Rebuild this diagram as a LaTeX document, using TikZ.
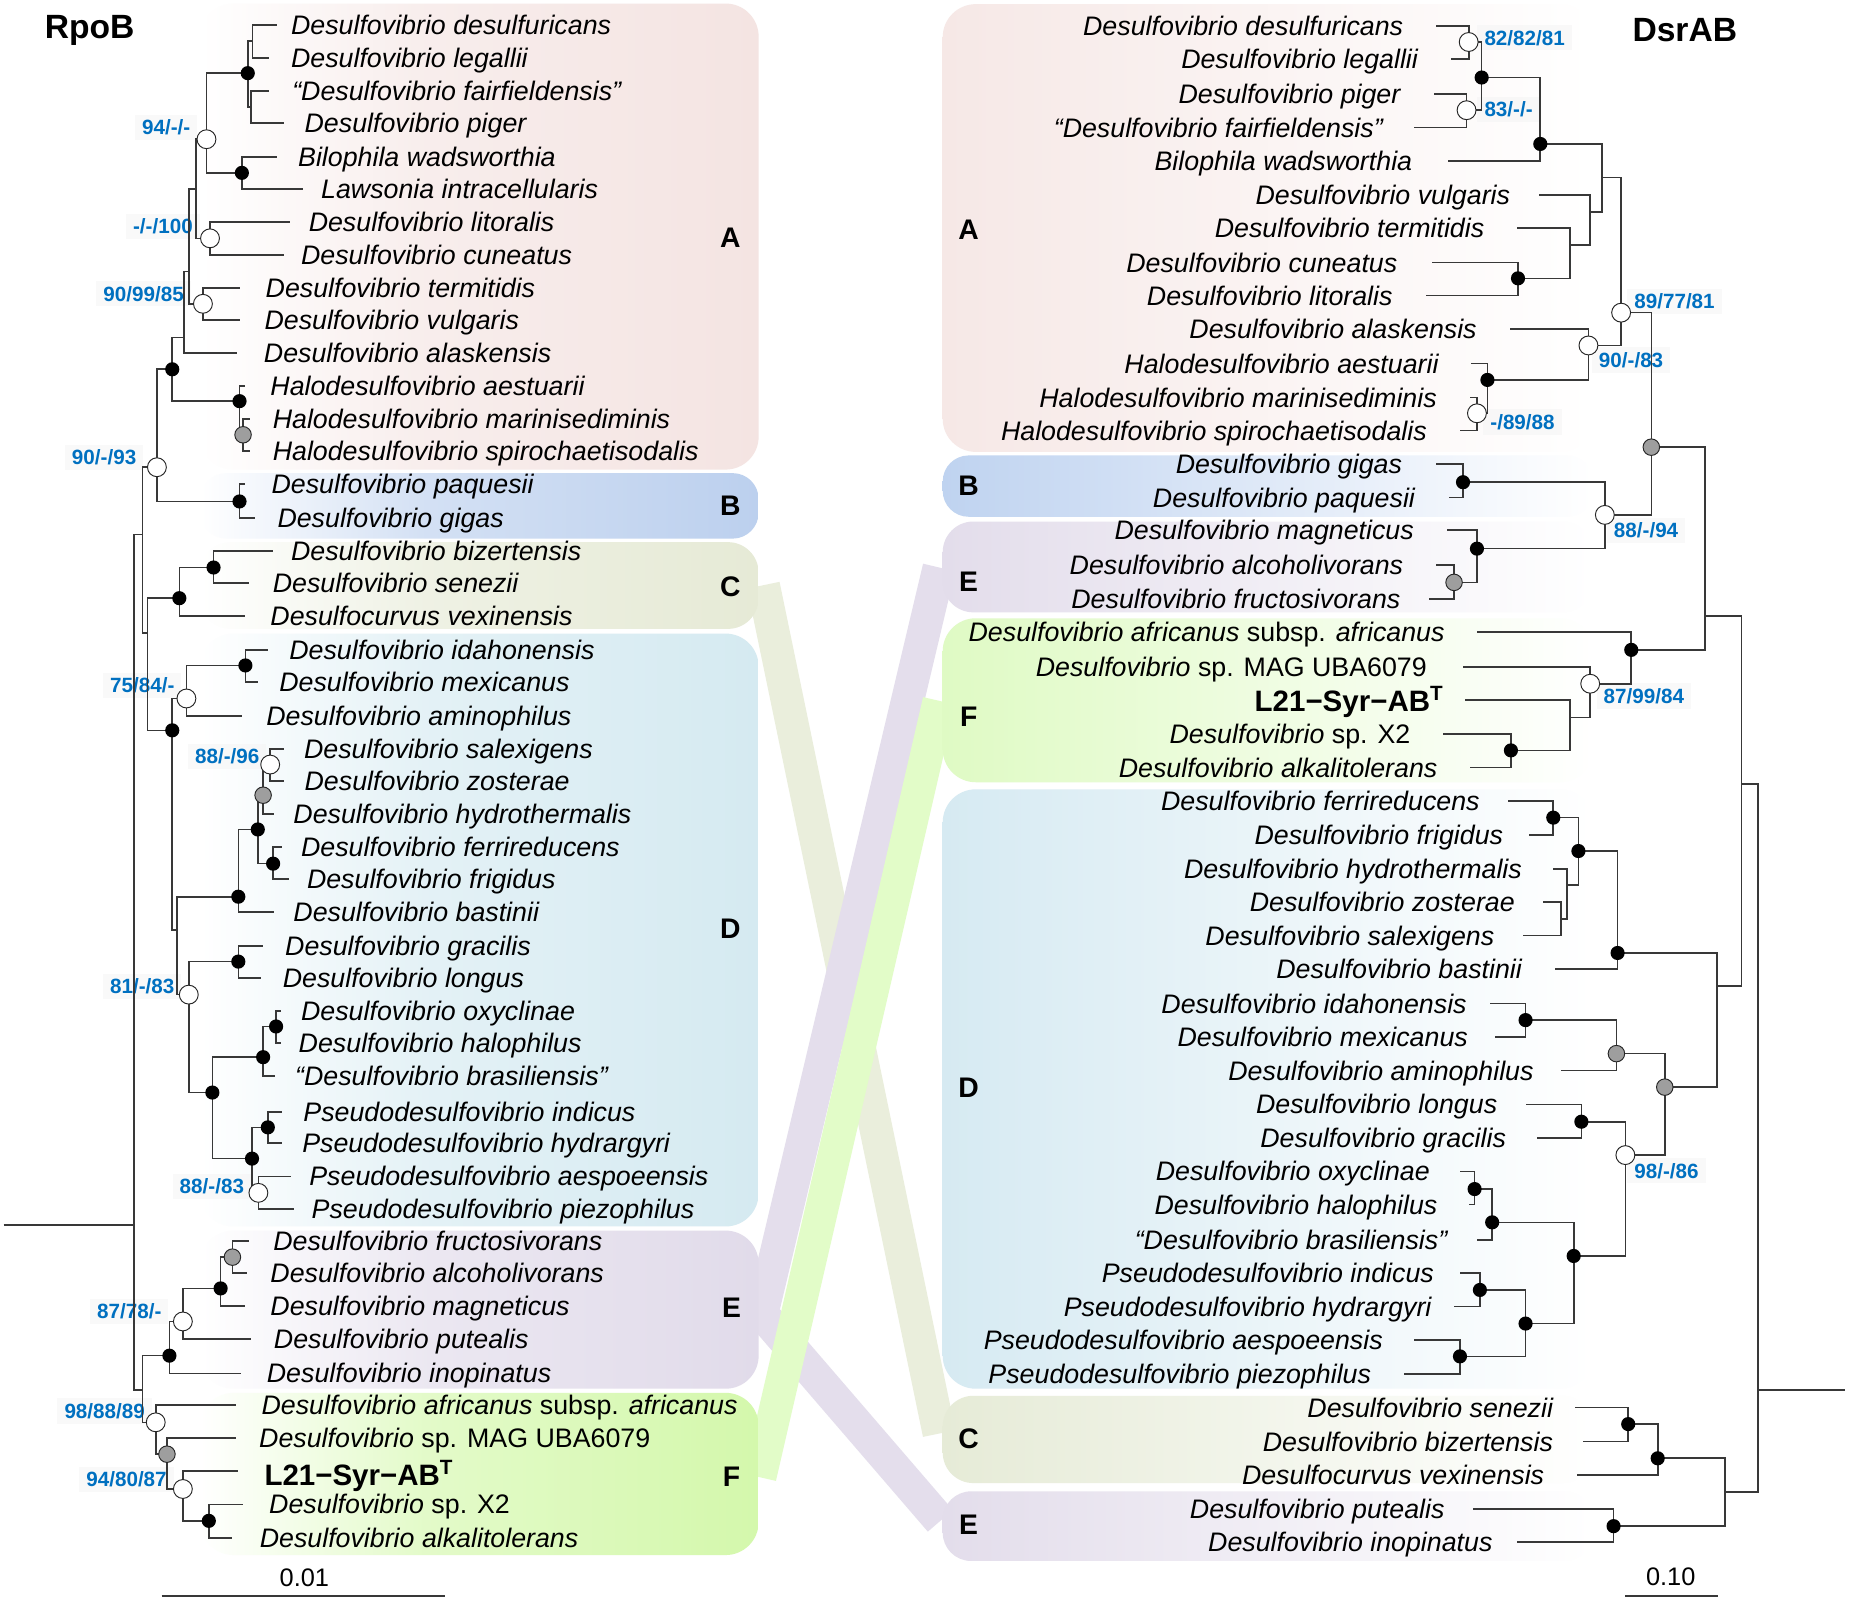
\documentclass[tikz,border=0pt]{standalone}
\usepackage{fontspec}
\setmainfont{Liberation Sans}
\definecolor{cA}{HTML}{F4E4E2}
\definecolor{cB}{HTML}{BCD0EE}
\definecolor{cC}{HTML}{E6EAD6}
\definecolor{cD}{HTML}{D5EAF1}
\definecolor{cE}{HTML}{E1DBEA}
\definecolor{cF}{HTML}{D4F8AC}
\definecolor{rA}{HTML}{F6E8E6}
\definecolor{rB}{HTML}{BFD3F0}
\definecolor{rE}{HTML}{E3DDEB}
\definecolor{rF}{HTML}{DFFAC4}
\definecolor{rD}{HTML}{D6EAF2}
\definecolor{rC}{HTML}{E6EBD7}
\definecolor{bandC}{HTML}{EAEEDC}
\definecolor{bandE}{HTML}{E4DEEC}
\definecolor{bandF}{HTML}{E2FCC8}
\definecolor{supc}{HTML}{0070C0}
\pgfdeclarehorizontalshading{shA}{100bp}{color(0bp)=(white); color(25bp)=(white); color(45bp)=(cA!65); color(75bp)=(cA); color(100bp)=(cA)}
\pgfdeclarehorizontalshading{shB}{100bp}{color(0bp)=(white); color(25bp)=(white); color(45bp)=(cB!65); color(75bp)=(cB); color(100bp)=(cB)}
\pgfdeclarehorizontalshading{shC}{100bp}{color(0bp)=(white); color(25bp)=(white); color(45bp)=(cC!65); color(75bp)=(cC); color(100bp)=(cC)}
\pgfdeclarehorizontalshading{shD}{100bp}{color(0bp)=(white); color(25bp)=(white); color(45bp)=(cD!65); color(75bp)=(cD); color(100bp)=(cD)}
\pgfdeclarehorizontalshading{shE}{100bp}{color(0bp)=(white); color(25bp)=(white); color(45bp)=(cE!65); color(75bp)=(cE); color(100bp)=(cE)}
\pgfdeclarehorizontalshading{shF}{100bp}{color(0bp)=(white); color(25bp)=(white); color(45bp)=(cF!65); color(75bp)=(cF); color(100bp)=(cF)}
\newcommand\spfont{\fontsize{22.7}{26}\selectfont\itshape}
\tikzset{
  br/.style={line width=1.4pt, draw=black!78},
  band/.style={line width=28pt},
  spl/.style={font=\spfont, inner sep=0pt, text height=16.3pt, text depth=0pt, anchor=west},
  spr/.style={font=\spfont, inner sep=0pt, text height=16.3pt, text depth=0pt, anchor=east},
  ltwo/.style={font=\fontsize{25}{28}\selectfont\bfseries, inner sep=0pt, text height=17.9pt, text depth=0pt},
  suplab/.style={font=\fontsize{17.5}{20}\selectfont\bfseries, text=supc, fill=white!96!black, fill opacity=0.6, text opacity=1, inner xsep=6pt, inner ysep=4.5pt, text height=12.5pt, text depth=0pt},
  clade/.style={font=\fontsize{24}{28}\selectfont\bfseries, inner sep=0pt, text height=17.2pt, text depth=0pt},
  ttl/.style={font=\fontsize{28.5}{32}\selectfont\bfseries, inner sep=0pt, text height=20.4pt, text depth=0pt},
  sclab/.style={font=\fontsize{21.5}{24}\selectfont, inner sep=0pt, text height=15.4pt, text depth=0pt},
  mo/.style={circle, draw=black!85, fill=white, line width=0.8pt, minimum size=16pt, inner sep=0pt},
  mg/.style={circle, draw=black!85, fill=black!38, line width=0.8pt, minimum size=14pt, inner sep=0pt},
  mb/.style={circle, fill=black, minimum size=12pt, inner sep=0pt},
}
\newcommand\lleaf[5]{\coordinate (la#1) at (#2,#3); \node[spl] (sl#1) at (#4,#3) {#5};}
\newcommand\rleaf[5]{\coordinate (ra#1) at (#2,#3); \node[spr] (sr#1) at (#4-1.5,#3) {#5};}
\newcommand\lsup[4]{\node[suplab, anchor=east] (#1) at (#2+6,#3) {#4};}
\newcommand\rsup[4]{\node[suplab, anchor=west] (#1) at (#2-6,#3) {#4};}
\begin{document}
\begin{tikzpicture}[x=1pt,y=-1pt]
\useasboundingbox (0,0) rectangle (1568,1358);
\fill[white] (0,0) rectangle (1568,1358);

% ---- crossing bands
\draw[band,draw=bandC] (647,496) -- (796,1215);
\draw[band,draw=bandE] (648,1116) -- (797,1289);
\draw[band,draw=bandE] (643,1125) -- (796,481);
\draw[band,draw=bandF] (644,1252) -- (796,594);

% ---- left clade boxes
\shade[shading=shA,rounded corners=28pt] (170,3) rectangle (643,398);
\shade[shading=shB,rounded corners=22pt] (170,401) rectangle (643,456.5);
\shade[shading=shC,rounded corners=26pt] (170,459.5) rectangle (643,533);
\shade[shading=shD,rounded corners=28pt] (170,537) rectangle (643,1039.5);
\shade[shading=shE,rounded corners=28pt] (170,1043) rectangle (643,1177);
\shade[shading=shF,rounded corners=28pt] (170,1180.5) rectangle (643,1318);
% ---- right clade boxes
\shade[left color=rA,right color=white,rounded corners=28pt] (799,3.5) rectangle (1350,383);
\shade[left color=rB,right color=white,rounded corners=22pt] (799,386) rectangle (1350,438);
\shade[left color=rE,right color=white,rounded corners=26pt] (799,442) rectangle (1350,519);
\shade[left color=rF,right color=white,rounded corners=28pt] (799,524) rectangle (1350,663);
\shade[left color=rD,right color=white,rounded corners=28pt] (799,669) rectangle (1350,1177);
\shade[left color=rC,right color=white,rounded corners=26pt] (799,1183) rectangle (1350,1257);
\shade[left color=rE,right color=white,rounded corners=24pt] (799,1264) rectangle (1350,1323);

% ---- clade letters
\node[clade] (kA) at (619,201) {A};
\node[clade] (kB) at (619,428) {B};
\node[clade] (kC) at (619,497) {C};
\node[clade] (kD) at (619,787) {D};
\node[clade] (kE) at (620,1108) {E};
\node[clade] (kF) at (620,1251) {F};
\node[clade] (qA) at (821,194) {A};
\node[clade] (qB) at (821,411) {B};
\node[clade] (qE) at (821,493) {E};
\node[clade] (qF) at (821,607) {F};
\node[clade] (qD) at (821,922) {D};
\node[clade] (qC) at (821,1219) {C};
\node[clade] (qE2) at (821,1292) {E};

% ---- titles
\node[ttl] (tR) at (76,22.6) {RpoB};
\node[ttl] (tD) at (1428,24.8) {DsrAB};

% ---- support values (drawn below the branches)
\lsup{s1}{161.5}{108}{94/-/-}
\lsup{s2}{163.6}{192}{-/-/100}
\lsup{s3}{156}{249}{90/99/85}
\lsup{s4}{115.7}{387.6}{90/-/93}
\lsup{s5}{148}{581}{75/84/-}
\lsup{s6}{220}{641}{88/-/96}
\lsup{s7}{148}{836}{81/-/83}
\lsup{s8}{207}{1005.4}{88/-/83}
\lsup{s9}{137}{1111.5}{87/78/-}
\lsup{s10}{123}{1196}{98/88/89}
\lsup{s11}{141.5}{1254}{94/80/87}
\rsup{s12}{1258}{32}{82/82/81}
\rsup{s13}{1258}{92.8}{83/-/-}
\rsup{s14}{1385}{255.4}{89/77/81}
\rsup{s15}{1355}{305}{90/-/83}
\rsup{s16}{1263}{357.6}{-/89/88}
\rsup{s17}{1367.7}{449.5}{88/-/94}
\rsup{s18}{1359}{590}{87/99/84}
\rsup{s19}{1385}{992.3}{98/-/86}

% ---- left leaves: tip x, y, text x
\lleaf{1}{235}{21}{246.5}{Desulfovibrio desulfuricans}
\lleaf{2}{228}{49}{246.5}{Desulfovibrio legallii}
\lleaf{3}{228}{77}{247.5}{“Desulfovibrio fairfieldensis”}
\lleaf{4}{241}{104}{258}{Desulfovibrio piger}
\lleaf{5}{235}{133}{252.5}{Bilophila wadsworthia}
\lleaf{6}{257}{160}{272}{Lawsonia intracellularis}
\lleaf{7}{245.6}{188}{261.5}{Desulfovibrio litoralis}
\lleaf{8}{240.6}{216}{255}{Desulfovibrio cuneatus}
\lleaf{9}{203}{244}{225}{Desulfovibrio termitidis}
\lleaf{10}{203}{271}{224}{Desulfovibrio vulgaris}
\lleaf{11}{201}{299}{223.5}{Desulfovibrio alaskensis}
\lleaf{12}{208}{327}{229}{Halodesulfovibrio aestuarii}
\lleaf{13}{212}{355}{231}{Halodesulfovibrio marinisediminis}
\lleaf{14}{212}{382}{231}{Halodesulfovibrio spirochaetisodalis}
\lleaf{15}{208}{410}{230}{Desulfovibrio paquesii}
\lleaf{16}{216}{439}{235}{Desulfovibrio gigas}
\lleaf{17}{231}{467}{246.5}{Desulfovibrio bizertensis}
\lleaf{18}{211}{494}{231}{Desulfovibrio senezii}
\lleaf{19}{208}{522}{229}{Desulfocurvus vexinensis}
\lleaf{20}{227}{551}{245}{Desulfovibrio idahonensis}
\lleaf{21}{219}{578}{236.5}{Desulfovibrio mexicanus}
\lleaf{22}{205}{607}{225.5}{Desulfovibrio aminophilus}
\lleaf{23}{241}{635}{257.5}{Desulfovibrio salexigens}
\lleaf{24}{241}{662}{258}{Desulfovibrio zosterae}
\lleaf{25}{232}{690}{248.5}{Desulfovibrio hydrothermalis}
\lleaf{26}{239}{718}{255}{Desulfovibrio ferrireducens}
\lleaf{27}{245}{745}{260}{Desulfovibrio frigidus}
\lleaf{28}{232}{773}{248.5}{Desulfovibrio bastinii}
\lleaf{29}{223}{802}{241.5}{Desulfovibrio gracilis}
\lleaf{30}{221}{829}{239.5}{Desulfovibrio longus}
\lleaf{31}{238}{857}{255}{Desulfovibrio oxyclinae}
\lleaf{32}{238}{884}{253}{Desulfovibrio halophilus}
\lleaf{33}{233}{912}{250}{“Desulfovibrio brasiliensis”}
\lleaf{34}{239}{942.5}{257}{Pseudodesulfovibrio indicus}
\lleaf{35}{239}{969}{256}{Pseudodesulfovibrio hydrargyri}
\lleaf{36}{247}{997}{262}{Pseudodesulfovibrio aespoeensis}
\lleaf{37}{249}{1024.5}{264}{Pseudodesulfovibrio piezophilus}
\lleaf{38}{211}{1052}{231.5}{Desulfovibrio fructosivorans}
\lleaf{39}{209}{1079}{229}{Desulfovibrio alcoholivorans}
\lleaf{40}{208}{1107}{229}{Desulfovibrio magneticus}
\lleaf{41}{213}{1135}{232}{Desulfovibrio putealis}
\lleaf{42}{204}{1164}{226}{Desulfovibrio inopinatus}
\lleaf{43}{200}{1190.6}{221.5}{Desulfovibrio africanus {\upshape subsp.} africanus}
\lleaf{44}{200}{1219}{219.5}{Desulfovibrio {\upshape sp. MAG UBA6079}}
\coordinate (la45) at (202,1247);
\node[ltwo, anchor=west] (sl45) at (224,1250) {L21−Syr−AB\textsuperscript{T}};
\lleaf{46}{206}{1275}{228}{Desulfovibrio {\upshape sp. X2}}
\lleaf{47}{197}{1303.5}{220}{Desulfovibrio alkalitolerans}

% ---- left internal nodes
\coordinate (L1) at (214,35);
\coordinate (L2) at (213,90.5);
\coordinate (L3) at (210,62);
\coordinate (L4) at (205,146.5);
\coordinate (L5) at (175,118);
\coordinate (L6) at (178,202);
\coordinate (L7) at (166,160);
\coordinate (L8) at (172,257.5);
\coordinate (L9) at (160,230);
\coordinate (L10) at (156,286);
\coordinate (L11) at (206,368.5);
\coordinate (L12) at (203,340);
\coordinate (L13) at (146,313);
\coordinate (L14) at (203,425);
\coordinate (L15) at (133,396);
\coordinate (L16) at (181,481);
\coordinate (L17) at (152,507);
\coordinate (L18) at (208,564);
\coordinate (L19) at (158,592);
\coordinate (L20) at (229,648);
\coordinate (L21) at (223,674);
\coordinate (L22) at (231.5,732);
\coordinate (L23) at (218.5,703);
\coordinate (L24) at (202,760);
\coordinate (L25) at (202,815);
\coordinate (L26) at (234,870);
\coordinate (L27) at (223,896);
\coordinate (L28) at (227,955.5);
\coordinate (L29) at (219,1011);
\coordinate (L30) at (213.6,982);
\coordinate (L31) at (180,926);
\coordinate (L32) at (160,843);
\coordinate (L33) at (150,788);
\coordinate (L34) at (146,619);
\coordinate (L35) at (125,536.5);
\coordinate (L36) at (120.7,453);
\coordinate (L37) at (197,1065.5);
\coordinate (L38) at (187,1092);
\coordinate (L39) at (155,1120);
\coordinate (L40) at (143.6,1149);
\coordinate (L41) at (177,1289);
\coordinate (L42) at (155,1262);
\coordinate (L43) at (141.5,1232.5);
\coordinate (L44) at (132,1205.5);
\coordinate (L45) at (120.7,1178);
\coordinate (LR) at (113.5,1038.5);
\coordinate (Lroot) at (3,1038.5);

\foreach \p/\c in {L1/la1,L1/la2,L2/la3,L2/la4,L3/L1,L3/L2,L4/la5,L4/la6,L5/L3,L5/L4,
  L6/la7,L6/la8,L7/L5,L7/L6,L8/la9,L8/la10,L9/L7,L9/L8,L10/L9,L10/la11,L11/la13,L11/la14,
  L12/la12,L12/L11,L13/L10,L13/L12,L14/la15,L14/la16,L15/L13,L15/L14,L16/la17,L16/la18,
  L17/L16,L17/la19,L18/la20,L18/la21,L19/L18,L19/la22,L20/la23,L20/la24,L21/L20,L21/la25,
  L22/la26,L22/la27,L23/L21,L23/L22,L24/L23,L24/la28,L25/la29,L25/la30,L26/la31,L26/la32,
  L27/L26,L27/la33,L28/la34,L28/la35,L29/la36,L29/la37,L30/L28,L30/L29,L31/L27,L31/L30,
  L32/L25,L32/L31,L33/L24,L33/L32,L34/L19,L34/L33,L35/L17,L35/L34,L36/L15,L36/L35,
  L37/la38,L37/la39,L38/L37,L38/la40,L39/L38,L39/la41,L40/L39,L40/la42,L41/la46,L41/la47,
  L42/la45,L42/L41,L43/la44,L43/L42,L44/la43,L44/L43,L45/L40,L45/L44,LR/L36,LR/L45}
  {\draw[br] (\p) |- (\c);}
\draw[br] (Lroot) -- (LR);

% ---- right leaves: tip x, y, text right end
\rleaf{1}{1217}{21.9}{1191}{Desulfovibrio desulfuricans}
\rleaf{2}{1230}{50.2}{1203.5}{Desulfovibrio legallii}
\rleaf{3}{1215}{79.4}{1188.6}{Desulfovibrio piger}
\rleaf{4}{1198.6}{108}{1173.7}{“Desulfovibrio fairfieldensis”}
\rleaf{5}{1227}{136.6}{1198.6}{Bilophila wadsworthia}
\rleaf{6}{1304.5}{165}{1281.6}{Desulfovibrio vulgaris}
\rleaf{7}{1285.6}{193}{1259.7}{Desulfovibrio termitidis}
\rleaf{8}{1213.5}{222.4}{1186}{Desulfovibrio cuneatus}
\rleaf{9}{1208.5}{250.5}{1182}{Desulfovibrio litoralis}
\rleaf{10}{1279.6}{278.8}{1253.3}{Desulfovibrio alaskensis}
\rleaf{11}{1246.8}{308}{1221}{Halodesulfovibrio aestuarii}
\rleaf{12}{1245.8}{337}{1219.5}{Halodesulfovibrio marinisediminis}
\rleaf{13}{1237.4}{365}{1211}{Halodesulfovibrio spirochaetisodalis}
\rleaf{14}{1217}{393.5}{1190}{Desulfovibrio gigas}
\rleaf{15}{1228.4}{421.8}{1201}{Desulfovibrio paquesii}
\rleaf{16}{1226}{449.2}{1200}{Desulfovibrio magneticus}
\rleaf{17}{1217}{479}{1191}{Desulfovibrio alcoholivorans}
\rleaf{18}{1211}{507.6}{1188.6}{Desulfovibrio fructosivorans}
\rleaf{19}{1251.8}{535.9}{1226}{Desulfovibrio africanus {\upshape subsp.} africanus}
\rleaf{20}{1239.8}{565.1}{1211}{Desulfovibrio {\upshape sp. MAG UBA6079}}
\coordinate (ra21) at (1241.8,593.1);
\node[ltwo, anchor=east] (sr21) at (1223.5,594) {L21−Syr−AB\textsuperscript{T}};
\rleaf{22}{1223.4}{622}{1197}{Desulfovibrio {\upshape sp. X2}}
\rleaf{23}{1245.8}{650.6}{1220}{Desulfovibrio alkalitolerans}
\rleaf{24}{1278}{678.9}{1255.8}{Desulfovibrio ferrireducens}
\rleaf{25}{1295.6}{707.5}{1275.7}{Desulfovibrio frigidus}
\rleaf{26}{1316.5}{736.7}{1291.6}{Desulfovibrio hydrothermalis}
\rleaf{27}{1308}{764.5}{1285.6}{Desulfovibrio zosterae}
\rleaf{28}{1290.6}{793}{1268.2}{Desulfovibrio salexigens}
\rleaf{29}{1318}{821.4}{1291.6}{Desulfovibrio bastinii}
\rleaf{30}{1263.2}{850.6}{1244.8}{Desulfovibrio idahonensis}
\rleaf{31}{1266.7}{878.9}{1245.8}{Desulfovibrio mexicanus}
\rleaf{32}{1323}{907.3}{1301.5}{Desulfovibrio aminophilus}
\rleaf{33}{1293}{936}{1270.7}{Desulfovibrio longus}
\rleaf{34}{1303}{964.4}{1278.1}{Desulfovibrio gracilis}
\rleaf{35}{1237.4}{992.8}{1213.5}{Desulfovibrio oxyclinae}
\rleaf{36}{1245}{1021}{1220}{Desulfovibrio halophilus}
\rleaf{37}{1251.8}{1050.9}{1228.4}{“Desulfovibrio brasiliensis”}
\rleaf{38}{1237.4}{1078.7}{1217}{Pseudodesulfovibrio indicus}
\rleaf{39}{1232}{1107.4}{1215}{Pseudodesulfovibrio hydrargyri}
\rleaf{40}{1198.6}{1135.8}{1173.7}{Pseudodesulfovibrio aespoeensis}
\rleaf{41}{1190.1}{1164.5}{1163.8}{Pseudodesulfovibrio piezophilus}
\rleaf{42}{1335.3}{1193}{1318}{Desulfovibrio senezii}
\rleaf{43}{1341.3}{1221.7}{1318}{Desulfovibrio bizertensis}
\rleaf{44}{1336.3}{1250.1}{1310.5}{Desulfocurvus vexinensis}
\rleaf{45}{1248.3}{1278.8}{1226}{Desulfovibrio putealis}
\rleaf{46}{1285.6}{1307.2}{1266.7}{Desulfovibrio inopinatus}

% ---- right internal nodes
\coordinate (N1) at (1244.8,35.6);
\coordinate (N2) at (1243,93.4);
\coordinate (N3) at (1255.8,65.7);
\coordinate (N4) at (1305.5,122);
\coordinate (N5) at (1286.6,235.9);
\coordinate (N6) at (1330.4,207.8);
\coordinate (N7) at (1347.8,179.5);
\coordinate (N8) at (1357.7,150.3);
\coordinate (N9) at (1251.8,350.3);
\coordinate (N10) at (1260.7,322);
\coordinate (N11) at (1346.3,292.8);
\coordinate (N12) at (1374,265);
\coordinate (N13) at (1240,408.7);
\coordinate (N14) at (1232.4,493.6);
\coordinate (N15) at (1251.8,465);
\coordinate (N16) at (1360.2,436.4);
\coordinate (N17) at (1399.6,379);
\coordinate (N18) at (1280.6,636);
\coordinate (N19) at (1330.4,608);
\coordinate (N20) at (1347.8,579.5);
\coordinate (N21) at (1382.6,550.8);
\coordinate (N22) at (1445,522);
\coordinate (N23) at (1316.5,693);
\coordinate (N24) at (1323,779);
\coordinate (N25) at (1328,749.9);
\coordinate (N26) at (1337.8,721.3);
\coordinate (N27) at (1371,807.7);
\coordinate (N28) at (1293,864.6);
\coordinate (N29) at (1370,893);
\coordinate (N30) at (1340.3,950.7);
\coordinate (N31) at (1249.8,1007.8);
\coordinate (N32) at (1264.7,1036);
\coordinate (N33) at (1254.3,1093.3);
\coordinate (N34) at (1237.4,1149.6);
\coordinate (N35) at (1293,1121.8);
\coordinate (N36) at (1333.8,1064.5);
\coordinate (N37) at (1377.6,979);
\coordinate (N38) at (1411,921.4);
\coordinate (N39) at (1455,835.7);
\coordinate (N40) at (1476,664.5);
\coordinate (N41) at (1380,1207);
\coordinate (N42) at (1405,1236);
\coordinate (N43) at (1367.6,1293.5);
\coordinate (N44) at (1462,1264.8);
\coordinate (NR) at (1490,1178.3);
\coordinate (Nroot) at (1564,1178.3);

\foreach \p/\c in {N1/ra1,N1/ra2,N2/ra3,N2/ra4,N3/N1,N3/N2,N4/N3,N4/ra5,N5/ra8,N5/ra9,
  N6/ra7,N6/N5,N7/ra6,N7/N6,N8/N4,N8/N7,N9/ra12,N9/ra13,N10/ra11,N10/N9,N11/ra10,N11/N10,
  N12/N8,N12/N11,N13/ra14,N13/ra15,N14/ra17,N14/ra18,N15/ra16,N15/N14,N16/N13,N16/N15,
  N17/N12,N17/N16,N18/ra22,N18/ra23,N19/ra21,N19/N18,N20/ra20,N20/N19,N21/ra19,N21/N20,
  N22/N17,N22/N21,N23/ra24,N23/ra25,N24/ra27,N24/ra28,N25/ra26,N25/N24,N26/N23,N26/N25,
  N27/N26,N27/ra29,N28/ra30,N28/ra31,N29/N28,N29/ra32,N30/ra33,N30/ra34,N31/ra35,N31/ra36,
  N32/N31,N32/ra37,N33/ra38,N33/ra39,N34/ra40,N34/ra41,N35/N33,N35/N34,N36/N32,N36/N35,
  N37/N30,N37/N36,N38/N29,N38/N37,N39/N27,N39/N38,N40/N22,N40/N39,N41/ra42,N41/ra43,
  N42/N41,N42/ra44,N43/ra45,N43/ra46,N44/N42,N44/N43,NR/N40,NR/N44}
  {\draw[br] (\p) |- (\c);}
\draw[br] (NR) -- (Nroot);

% ---- node markers
\foreach \n in {L3,L4,L12,L13,L14,L16,L17,L18,L22,L23,L24,L25,L26,L27,L28,L30,L31,L34,L38,L40,L41,
  N3,N4,N5,N10,N13,N15,N18,N21,N23,N26,N27,N28,N30,N31,N32,N33,N34,N35,N36,N41,N42,N43}
  {\node[mb] (m\n) at (\n) {};}
\foreach \n in {L11,L21,L37,L43,N14,N17,N29,N38}
  {\node[mg] (m\n) at (\n) {};}
\foreach \n in {L5,L6,L8,L15,L19,L20,L29,L32,L39,L42,L44,N1,N2,N9,N11,N12,N16,N20,N37}
  {\node[mo] (m\n) at (\n) {};}

% ---- scale bars
\coordinate (sa1) at (137,1352.6);
\coordinate (sa2) at (377,1352.6);
\draw[br] (sa1) -- (sa2);
\node[sclab] (sc1) at (258,1336.8) {0.01};
\coordinate (sb1) at (1377.6,1352.6);
\coordinate (sb2) at (1455.7,1352.6);
\draw[br] (sb1) -- (sb2);
\node[sclab] (sc2) at (1416,1335.8) {0.10};
\end{tikzpicture}
\end{document}
